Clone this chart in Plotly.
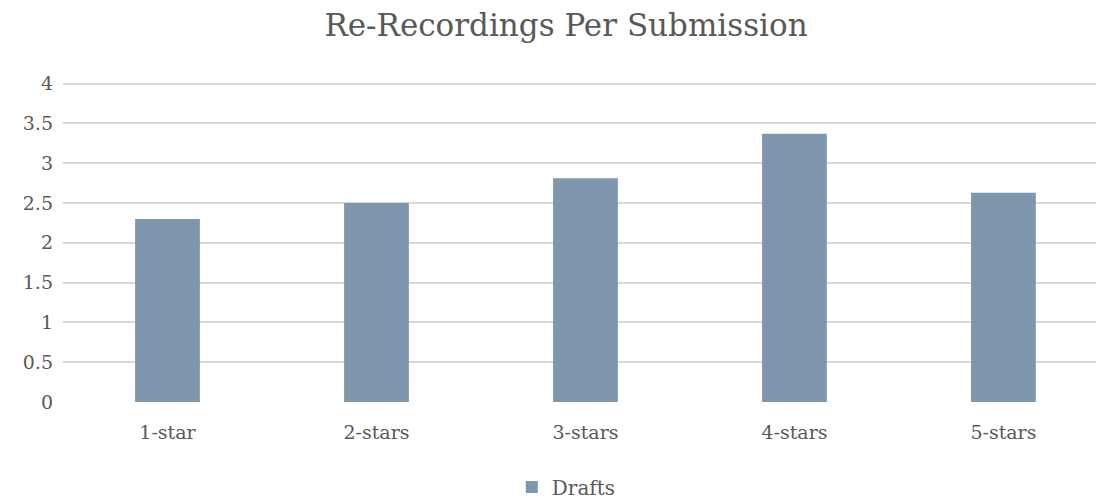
import plotly.graph_objects as go

# Average re-recordings per submission, grouped by star rating
categories = ["1-star", "2-stars", "3-stars", "4-stars", "5-stars"]
drafts = [2.30, 2.50, 2.81, 3.37, 2.63]
y_ticks = [0, 0.5, 1, 1.5, 2, 2.5, 3, 3.5, 4]
y_tick_labels = ["0", "0.5", "1", "1.5", "2", "2.5", "3", "3.5", "4"]

W, H = 1096, 499
FONT = "DejaVu Serif"
TEXT = "#595959"

fig = go.Figure(
    go.Bar(
        x=list(range(len(categories))),
        y=drafts,
        name="Drafts",
        width=0.31,
        marker=dict(color="#7f97ad", line=dict(width=0)),
        showlegend=True,
    )
)

fig.update_layout(
    width=W,
    height=H,
    margin=dict(l=63, r=0, t=82, b=97, autoexpand=False),
    paper_bgcolor="white",
    plot_bgcolor="white",
    font=dict(family=FONT, color=TEXT, size=19),
    title=dict(
        text="Re-Recordings Per Submission",
        font=dict(family=FONT, size=31, color=TEXT),
        x=566 / W,
        xanchor="center",
        y=1 - 25 / H,
        yanchor="middle",
    ),
    xaxis=dict(
        range=[-0.5, 4.443],
        tickmode="array",
        tickvals=list(range(len(categories))),
        ticktext=categories,
        showgrid=False,
        zeroline=False,
        showline=False,
        ticks="",
        ticklabelstandoff=17,
    ),
    yaxis=dict(
        # a little headroom so the grid line at 4 is kept
        range=[0, 4.02],
        tickmode="array",
        tickvals=y_ticks,
        ticktext=y_tick_labels,
        showgrid=True,
        gridcolor="#d9d9d9",
        gridwidth=1.5,
        zeroline=False,
        showline=False,
        ticks="",
        ticklabelstandoff=9,
    ),
    legend=dict(
        orientation="h",
        x=534 / W,
        xanchor="center",
        y=-(487 - 402) / (402 - 82),
        yanchor="middle",
        font=dict(family=FONT, size=20, color=TEXT),
        itemwidth=30,
    ),
)

fig.write_html("out.html")
